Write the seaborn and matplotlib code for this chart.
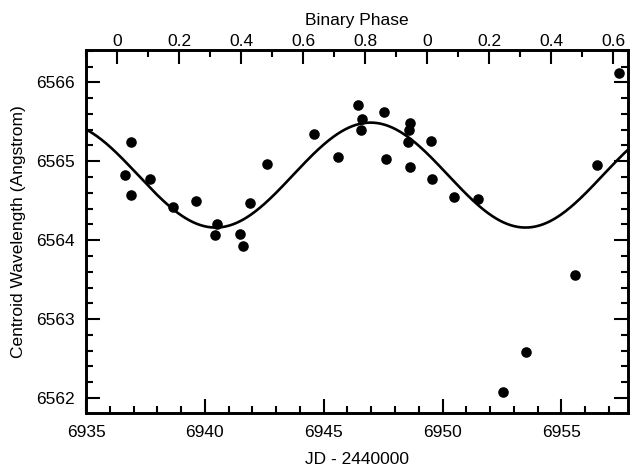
import numpy as np
import pandas as pd
import matplotlib
matplotlib.use("Agg")
import matplotlib.pyplot as plt
import seaborn as sns
from matplotlib.ticker import MultipleLocator, FixedLocator, NullFormatter

# Observed data (JD - 2440000, centroid wavelength in Angstrom)
jd = [6936.66, 6936.90, 6936.90, 6937.68, 6938.66, 6939.64, 6940.51, 6940.44,
      6941.49, 6941.60, 6941.88, 6942.63, 6944.60, 6945.61, 6946.45, 6946.61,
      6946.55, 6947.52, 6947.61, 6948.61, 6948.57, 6948.53, 6948.61, 6949.52,
      6949.57, 6950.47, 6951.50, 6952.53, 6953.51, 6955.56, 6956.48, 6957.42]
wave = [6564.82, 6565.25, 6564.57, 6564.77, 6564.42, 6564.50, 6564.20, 6564.07,
        6564.08, 6563.92, 6564.47, 6564.97, 6565.34, 6565.06, 6565.71, 6565.54,
        6565.40, 6565.63, 6565.03, 6565.48, 6565.39, 6565.25, 6564.93, 6565.26,
        6564.78, 6564.55, 6564.52, 6562.07, 6562.58, 6563.56, 6564.95, 6566.12]

# Sinusoidal fit parameters
fit_period = 13.04      # days
fit_t_min = 6940.45     # epoch of minimum
fit_mean = 6564.825
fit_amp = 0.665
phase_zero = 6936.32    # epoch of binary phase 0

x_lim = (6935.0, 6957.8)
y_lim = (6561.81, 6566.41)
x_ticks = [6935, 6940, 6945, 6950, 6955]
y_ticks = [6562, 6563, 6564, 6565, 6566]

sns.set_style("ticks")
plt.rcParams['font.family'] = ['Liberation Sans', 'DejaVu Sans']
plt.rcParams['text.color'] = 'black'
plt.rcParams['axes.labelcolor'] = 'black'
plt.rcParams['xtick.color'] = 'black'
plt.rcParams['ytick.color'] = 'black'
FS = 12.5

fig = plt.figure(figsize=(6.32, 4.68), dpi=100)
ax = fig.add_axes([86/632, 1-413/468, (628-86)/632, (413-50)/468])

df = pd.DataFrame({"jd": jd, "wave": wave})
tt = np.linspace(x_lim[0], x_lim[1], 600)
fit = pd.DataFrame({"jd": tt,
                    "wave": fit_mean - fit_amp*np.cos(2*np.pi*(tt - fit_t_min)/fit_period)})

sns.lineplot(data=fit, x="jd", y="wave", ax=ax, color="black", lw=1.9, zorder=2)
sns.scatterplot(data=df, x="jd", y="wave", ax=ax, color="black", s=58,
                edgecolor="black", linewidth=0, zorder=3)

ax.set_xlim(*x_lim)
ax.set_ylim(*y_lim)
ax.set_xticks(x_ticks)
ax.set_yticks(y_ticks)
ax.xaxis.set_minor_locator(MultipleLocator(1))
ax.yaxis.set_minor_locator(MultipleLocator(0.2))
ax.tick_params(which="both", direction="in", width=1.5, colors="black",
               labelsize=FS, top=False, right=True)
ax.tick_params(which="major", length=10)
ax.tick_params(which="minor", length=5)
ax.tick_params(axis="x", pad=8.5)
ax.tick_params(axis="y", pad=8)
ax.set_xlabel("JD - 2440000", fontsize=FS, labelpad=9, color="black")
ax.set_ylabel("Centroid Wavelength (Angstrom)", fontsize=FS, labelpad=7, color="black")
for s in ax.spines.values():
    s.set_linewidth(1.9)
    s.set_color("black")

# Top binary phase axis
ax2 = ax.twiny()
ax2.set_xlim(*x_lim)
ks = list(range(-1, 18))
major_pos, major_lab, minor_pos = [], [], []
for k in ks:
    pos = phase_zero + 0.1*k*fit_period
    if pos < x_lim[0] - 1e-6 or pos > x_lim[1] + 1e-6:
        continue
    if k % 2 == 0:
        ph = round((k*0.1) % 1.0, 1)
        major_pos.append(pos)
        major_lab.append("0" if ph == 0 else f"{ph:.1f}")
    else:
        minor_pos.append(pos)
ax2.xaxis.set_major_locator(FixedLocator(major_pos))
ax2.set_xticklabels(major_lab)
ax2.xaxis.set_minor_locator(FixedLocator(minor_pos))
ax2.xaxis.set_minor_formatter(NullFormatter())
ax2.tick_params(which="both", direction="in", width=1.5, labelsize=FS, pad=1,
                colors="black")
ax2.tick_params(which="major", length=10)
ax2.tick_params(which="minor", length=5)
ax2.set_xlabel("Binary Phase", fontsize=FS, labelpad=6, color="black")
for s in ax2.spines.values():
    s.set_linewidth(1.9)
    s.set_color("black")

fig.savefig("out.png", dpi=100)
